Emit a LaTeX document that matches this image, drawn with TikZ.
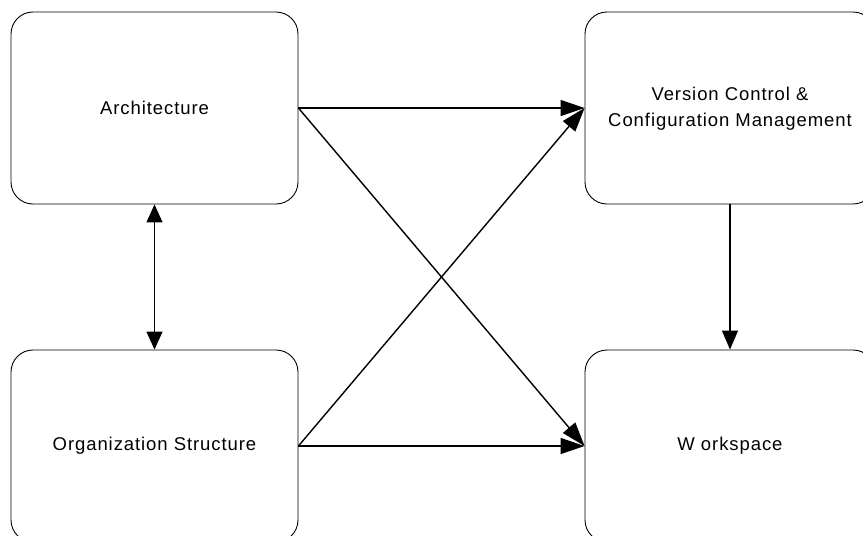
\documentclass[tikz,border=0pt]{standalone}
\usepackage{fontspec}
\setmainfont{Liberation Sans}[LetterSpace=5]
\usetikzlibrary{arrows.meta}
\begin{document}
\begin{tikzpicture}[x=1pt,y=-1pt,
  block/.style={draw, line width=0.9pt, rounded corners=22pt, rectangle,
    minimum height=192pt, font=\fontsize{18.5}{26}\selectfont, align=center,
    inner sep=0pt},
  flow/.style={line width=1.4pt, -{Triangle[length=24pt,width=16pt]}},
  drop/.style={line width=1.4pt, -{Triangle[length=19pt,width=16pt]}},
  both/.style={line width=1.4pt, {Triangle[length=18pt,width=16pt]}-{Triangle[length=18pt,width=16pt]}}]
  \useasboundingbox (0,0) rectangle (863,536);

  % four blocks
  \node[block, minimum width=287pt] (arch) at (154.5,108) {Architecture};
  \node[block, minimum width=290pt] (vc)   at (730,108)
    {\raisebox{-3pt}{\begin{tabular}{@{}c@{}}Version Control \&\\Configuration Management\end{tabular}}};
  \node[block, minimum width=287pt] (org)  at (154.5,446) {Organization Structure};
  \node[block, minimum width=290pt] (ws)   at (730,446) {W orkspace};

  % connectors
  \draw[both] (arch.south) -- (org.north);
  \draw[drop] (vc.south) -- (ws.north);
  \draw[flow] (arch.east) -- (vc.west);
  \draw[flow] (arch.east) -- (ws.west);
  \draw[flow] (org.east) -- (vc.west);
  \draw[flow] (org.east) -- (ws.west);
\end{tikzpicture}
\end{document}
